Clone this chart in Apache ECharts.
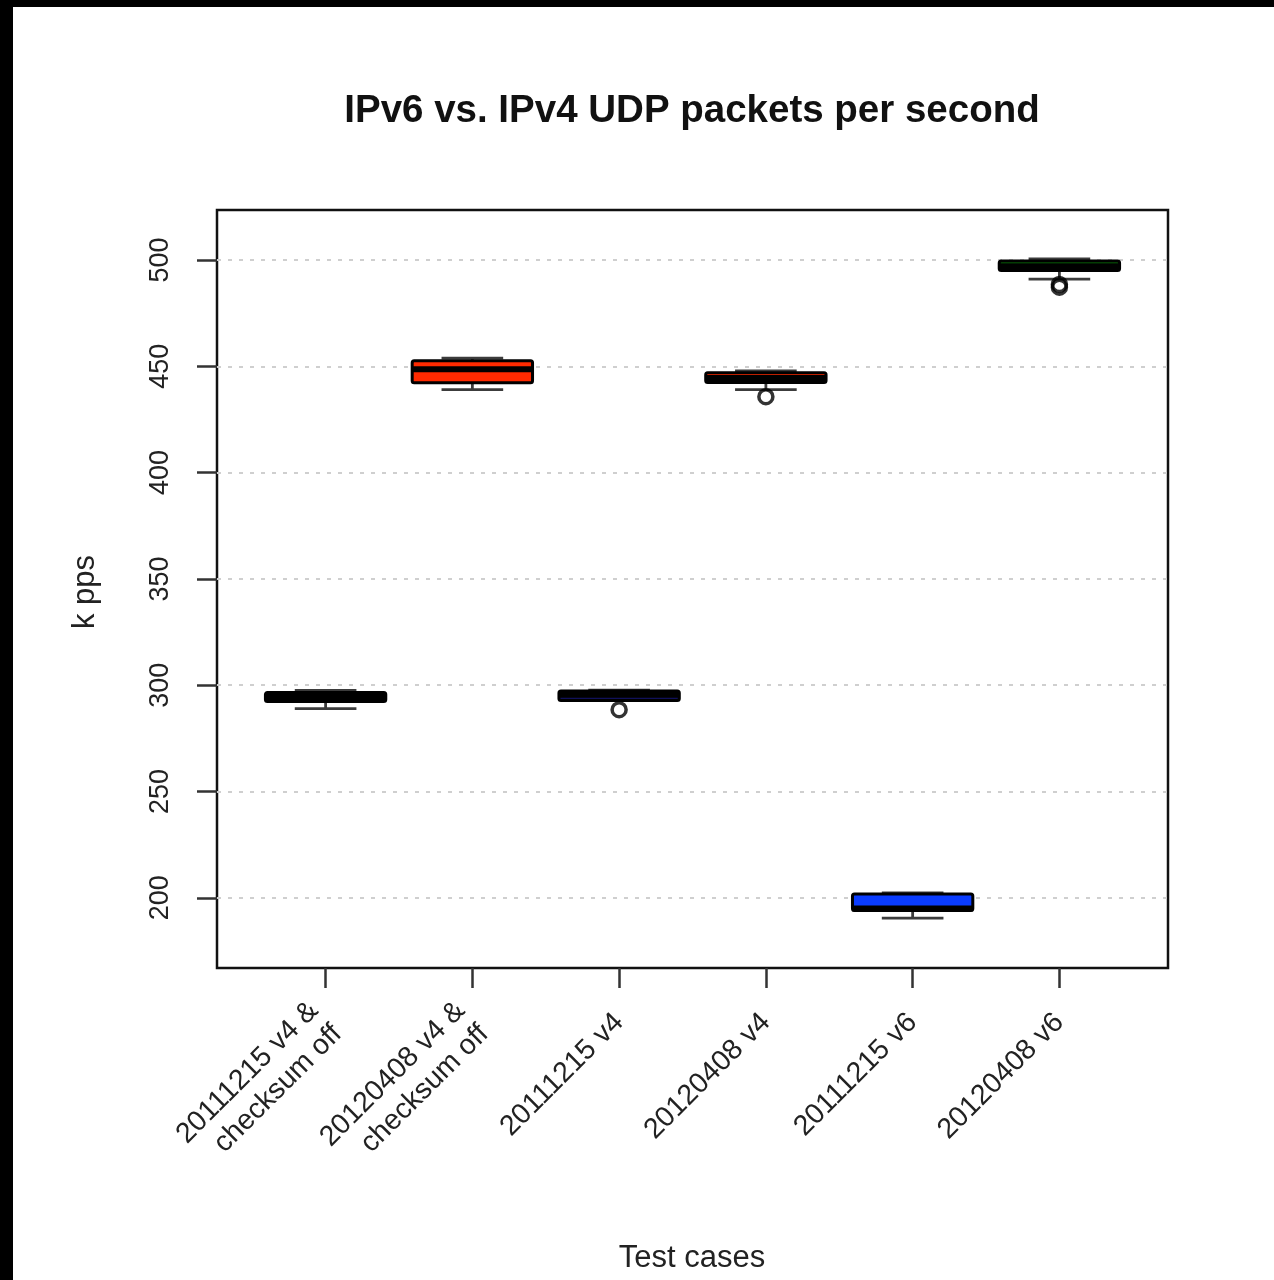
<!DOCTYPE html>
<html><head><meta charset="utf-8">
<script src="https://cdn.jsdelivr.net/npm/echarts@6/dist/echarts.min.js"></script>
<style>
html,body{margin:0;padding:0;background:#000;width:1274px;height:1280px;overflow:hidden}
#c{position:absolute;left:13px;top:7px;width:1261px;height:1273px;background:#fff}
</style></head><body><div id="c"></div>
<script>
// ---- data ----
const categories = ["20111215 v4 &\nchecksum off", "20120408 v4 &\nchecksum off", "20111215 v4", "20120408 v4", "20111215 v6", "20120408 v6"];
const lowWhisker  = [289.0, 439.0, 292.8, 439.0, 190.5, 491.0];
const q1          = [292.3, 442.3, 292.8, 442.4, 194.0, 495.0];
const median      = [294.5, 448.6, 295.5, 444.5, 195.0, 497.0];
const q3          = [296.6, 452.6, 297.3, 447.0, 201.8, 499.5];
const highWhisker = [297.6, 453.8, 297.7, 447.8, 202.3, 500.5];
const outlierCase  = [3, 4, 6, 6];
const outlierValue = [288.5, 435.7, 488.5, 487.2];
const yTicks = [200, 250, 300, 350, 400, 450, 500];
const xTicks = [1, 2, 3, 4, 5, 6];

// ---- styles ----
const boxColors = ['#10105a', '#ff2a00', '#10105a', '#ff2a00', '#0a3cff', '#0a7a0a'];
const FONT = 'Liberation Sans, Arial, Helvetica, sans-serif';

const boxData = categories.map((c, i) => [i + 1, lowWhisker[i], q1[i], median[i], q3[i], highWhisker[i]]);
const outData = outlierCase.map((c, i) => [c, outlierValue[i]]);

const chart = echarts.init(document.getElementById('c'), null, {renderer: 'canvas'});
const tickStyle = {color: '#333', width: 2.5};

chart.setOption({
  animation: false,
  backgroundColor: '#fff',
  grid: {left: 204, top: 203, width: 951, height: 758, show: true, borderColor: '#111', borderWidth: 2.5, backgroundColor: 'transparent'},
  xAxis: {
    type: 'value', min: 0.26, max: 6.74,
    splitLine: {show: false}, axisLine: {show: false},
    axisTick: {show: true, customValues: xTicks, length: 20, lineStyle: tickStyle},
    axisLabel: {
      customValues: xTicks, rotate: 45, margin: 50, fontSize: 28.5, lineHeight: 33,
      color: '#222', fontFamily: FONT, hideOverlap: false,
      formatter: v => categories[Math.round(v) - 1] || ''
    }
  },
  yAxis: {
    type: 'value', min: 167, max: 523.5,
    splitLine: {show: false}, axisLine: {show: false},
    axisTick: {show: true, customValues: yTicks, length: 20, lineStyle: tickStyle},
    axisLabel: {customValues: yTicks, rotate: 90, margin: 43, fontSize: 27, color: '#222', fontFamily: FONT}
  },
  graphic: [
    {type: 'text', x: 679, y: 104, style: {text: 'IPv6 vs. IPv4 UDP packets per second', font: 'bold 38.5px ' + FONT, fill: '#111', textAlign: 'center', textVerticalAlign: 'middle'}},
    {type: 'text', x: 72, y: 585, rotation: Math.PI / 2, style: {text: 'k pps', font: '31px ' + FONT, fill: '#222', textAlign: 'center', textVerticalAlign: 'middle'}},
    {type: 'text', x: 679, y: 1251, style: {text: 'Test cases', font: '31px ' + FONT, fill: '#222', textAlign: 'center', textVerticalAlign: 'middle'}}
  ],
  series: [
    {
      type: 'scatter', data: [], z: 1, zlevel: 0, silent: true,
      markLine: {
        silent: true, symbol: ['none', 'none'], label: {show: false},
        lineStyle: {color: '#cfcfcf', width: 2, type: [4, 7]},
        data: yTicks.map(v => ({yAxis: v}))
      }
    },
    {
      type: 'custom', z: 3, zlevel: 1, data: boxData,
      encode: {x: 0, y: [1, 2, 3, 4, 5]},
      renderItem: function (params, api) {
        const x = api.value(0);
        const lo = api.value(1), a = api.value(2), m = api.value(3), b = api.value(4), hi = api.value(5);
        const hw = 0.41, cw = 0.21;
        const tl = api.coord([x - hw, b]);
        const br = api.coord([x + hw, a]);
        const ml = api.coord([x - hw, m]), mr = api.coord([x + hw, m]);
        const ph = api.coord([x, hi]), pl = api.coord([x, lo]);
        const pb = api.coord([x, b]), pa = api.coord([x, a]);
        const cl = api.coord([x - cw, lo])[0], cr = api.coord([x + cw, lo])[0];
        const w = {stroke: '#3c3c3c', lineWidth: 2.8};
        return {
          type: 'group', children: [
            {type: 'line', shape: {x1: ph[0], y1: ph[1], x2: pb[0], y2: pb[1]}, style: w},
            {type: 'line', shape: {x1: pl[0], y1: pl[1], x2: pa[0], y2: pa[1]}, style: w},
            {type: 'line', shape: {x1: cl, y1: ph[1], x2: cr, y2: ph[1]}, style: w},
            {type: 'line', shape: {x1: cl, y1: pl[1], x2: cr, y2: pl[1]}, style: w},
            {type: 'rect', shape: {x: tl[0], y: tl[1], width: br[0] - tl[0], height: br[1] - tl[1], r: 2},
              style: {fill: boxColors[params.dataIndex], stroke: '#000', lineWidth: 3}},
            {type: 'line', shape: {x1: ml[0], y1: ml[1], x2: mr[0], y2: mr[1]}, style: {stroke: '#000', lineWidth: 6}}
          ]
        };
      }
    },
    {
      type: 'scatter', z: 4, zlevel: 1, data: outData, symbol: 'circle', symbolSize: 14,
      itemStyle: {color: 'rgba(255,255,255,0)', borderColor: '#000', borderWidth: 3.5}
    }
  ]
});
</script></body></html>
